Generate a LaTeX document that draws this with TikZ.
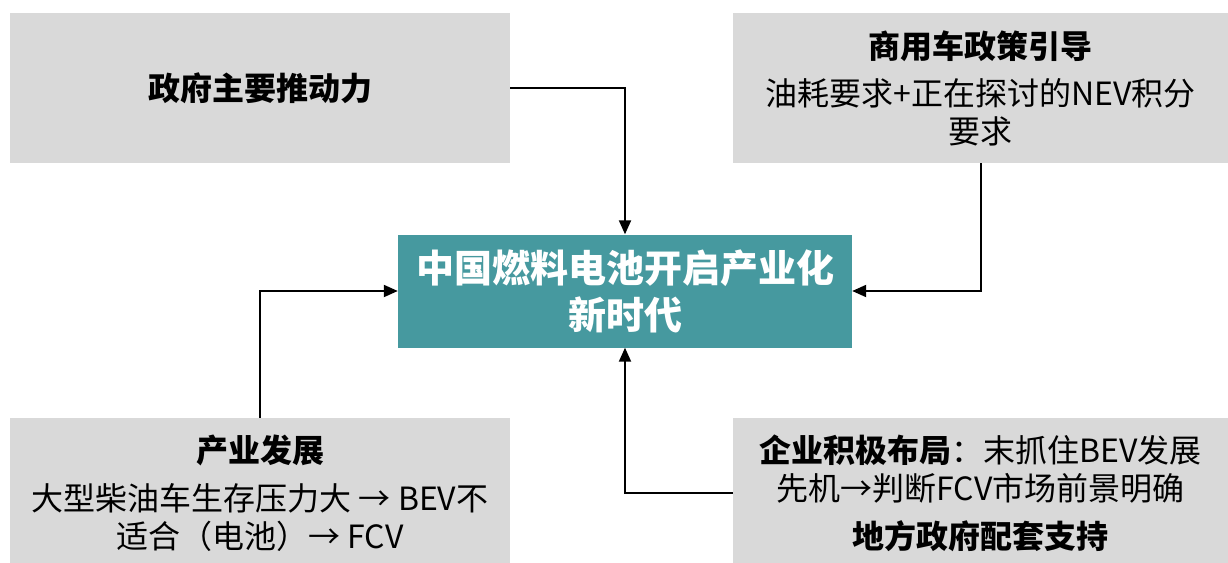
\documentclass[tikz,border=0pt]{standalone}
\usepackage{fontspec}
\setmainfont{Noto Sans CJK SC}
\usetikzlibrary{arrows.meta}
\definecolor{boxgray}{HTML}{D9D9D9}
\definecolor{teal}{HTML}{46999F}
\tikzset{
  graybox/.style={fill=boxgray, draw=none, inner sep=0pt, align=center,
    font=\fontsize{32}{38}\selectfont},
  centerbox/.style={fill=teal, draw=none, inner sep=0pt, align=center, text=white,
    font=\fontsize{38}{47}\selectfont\bfseries},
  conn/.style={line width=2pt, -{Triangle[length=14pt,width=12pt]}}
}
\begin{document}
\begin{tikzpicture}[x=1pt,y=-1pt]
\useasboundingbox (0,0) rectangle (1228,562);
\node[graybox, minimum width=500pt, minimum height=150pt] (tl) at (260,88)
  {\bfseries 政府主要推动力};
\node[graybox, minimum width=495pt, minimum height=150pt] (tr) at (980.5,88)
  {\bfseries 商用车政策引导\\[9pt] 油耗要求+正在探讨的NEV积分\\ 要求};
\node[centerbox, minimum width=454pt, minimum height=113pt] (c) at (625,291)
  {中国燃料电池开启产业化\\ 新时代};
\node[graybox, minimum width=500pt, minimum height=150pt] (bl) at (260,493)
  {\bfseries 产业发展\\[10pt] 大型柴油车生存压力大 → BEV不\\ 适合（电池）→ FCV};
\node[graybox, minimum width=495pt, minimum height=150pt] (br) at (980.5,493)
  {{\bfseries 企业积极布局}：末抓住BEV发展\\ 先机→判断FCV市场前景明确\\[10pt] {\bfseries 地方政府配套支持}};
\draw[conn] (tl.east) -| (c.north);
\draw[conn] (tr.south) |- (c.east);
\draw[conn] (bl.north) |- (c.west);
\draw[conn] (br.west) -| (c.south);
\end{tikzpicture}
\end{document}
